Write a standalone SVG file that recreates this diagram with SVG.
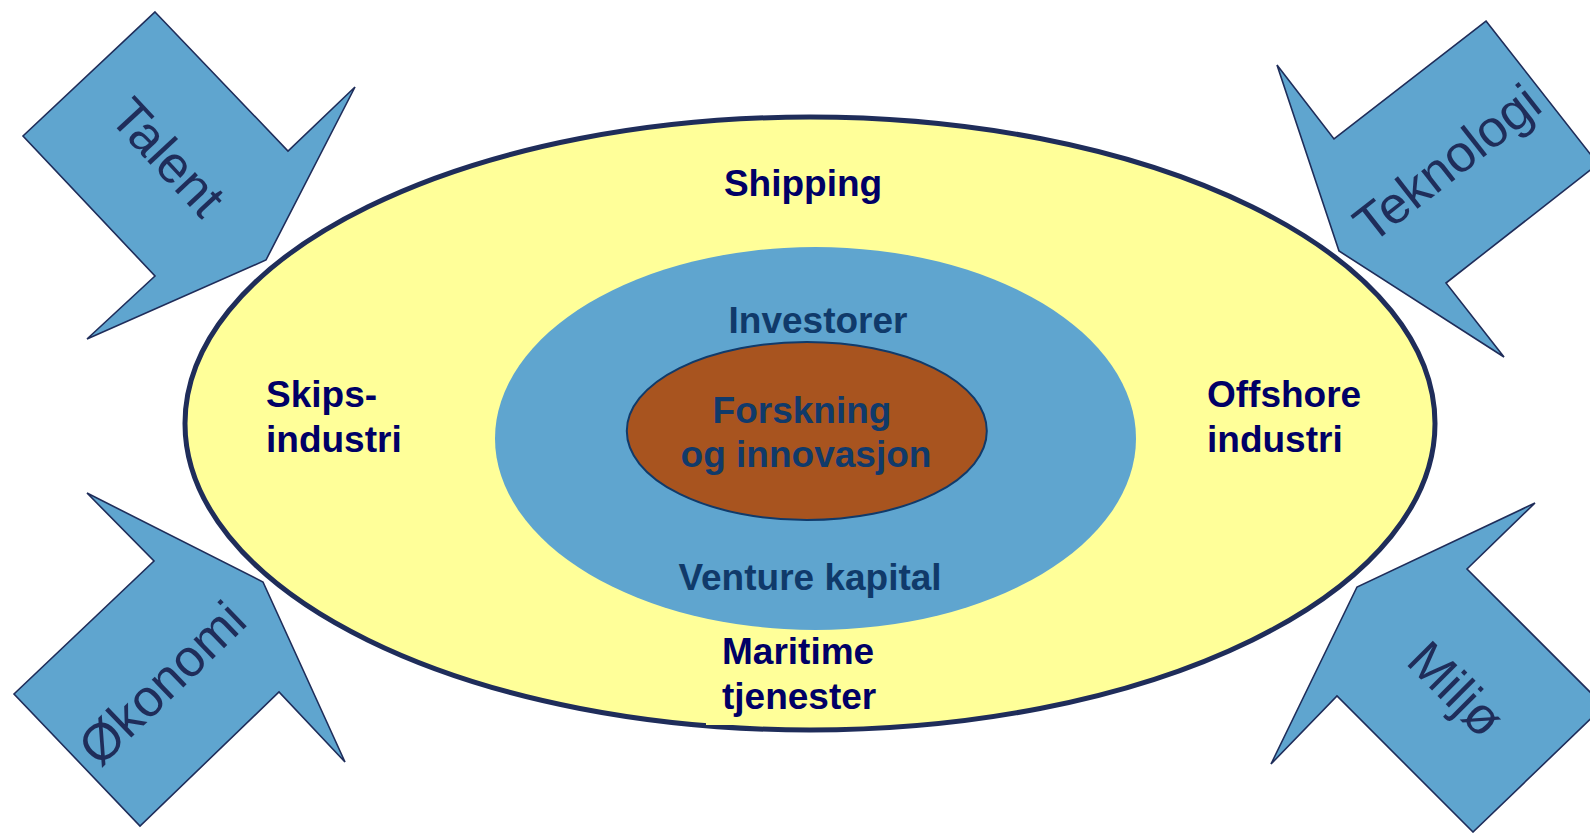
<svg xmlns="http://www.w3.org/2000/svg" width="1590" height="833" viewBox="0 0 1590 833">
<style>
.arrow{fill:#5FA5CF;stroke:#1F2D5A;stroke-width:1.6;stroke-linejoin:miter}
.albl{font-family:"Liberation Sans",Arial,sans-serif;font-size:52px;fill:#1F2D5A;text-anchor:middle}
.outer{font-family:"Liberation Sans",Arial,sans-serif;font-size:37px;font-weight:bold;fill:#000066}
.inner{font-family:"Liberation Sans",Arial,sans-serif;font-size:37px;font-weight:bold;fill:#103A6A;text-anchor:middle}
</style>
<rect width="1590" height="833" fill="#FFFFFF"/>
<g id="ring-outer">
<ellipse cx="810" cy="423.5" rx="625" ry="306.5" fill="#FFFF99" stroke="#1F2D5A" stroke-width="5"/>
<rect x="706" y="633" width="174" height="92" fill="#FFFF99"/>
<text class="outer" x="803" y="196" text-anchor="middle">Shipping</text>
<text class="outer" x="266" y="407">Skips-</text>
<text class="outer" x="266" y="452">industri</text>
<text class="outer" x="1207" y="407">Offshore</text>
<text class="outer" x="1207" y="452">industri</text>
<text class="outer" x="722" y="664">Maritime</text>
<text class="outer" x="722" y="709">tjenester</text>
</g>
<g id="ring-middle">
<ellipse cx="815.5" cy="438.5" rx="320.5" ry="191.5" fill="#5FA5CF"/>
<text class="inner" x="818" y="333">Investorer</text>
<text class="inner" x="810" y="590">Venture kapital</text>
</g>
<g id="core">
<ellipse cx="806.8" cy="431" rx="180" ry="89" fill="#A8541F" stroke="#103A6A" stroke-width="2"/>
<text class="inner" x="802" y="423">Forskning</text>
<text class="inner" x="806" y="467">og innovasjon</text>
</g>
<g id="arrow-talent">
<polygon class="arrow" points="155,12 288,151 355,87 266,260 87,339 155,276 23,136"/>
<text class="albl" transform="translate(168,157) rotate(47)" y="18">Talent</text>
</g>
<g id="arrow-teknologi">
<polygon class="arrow" points="1486,21 1598,164 1446,283 1504,357 1339,251 1277,65 1334,139"/>
<text class="albl" transform="translate(1447,163) rotate(-38)" y="18">Teknologi</text>
</g>
<g id="arrow-okonomi">
<polygon class="arrow" points="87,493 263,582 345,762 279,692 140,826 14,694 154,561"/>
<text class="albl" transform="translate(162,683) rotate(-44)" y="18">Økonomi</text>
</g>
<g id="arrow-miljo">
<polygon class="arrow" points="1535,503 1467,569 1604,706 1473,832 1337,696 1271,764 1357,587"/>
<text class="albl" transform="translate(1456,689) rotate(45)" y="18">Miljø</text>
</g>
<g id="connectors"></g>
</svg>
